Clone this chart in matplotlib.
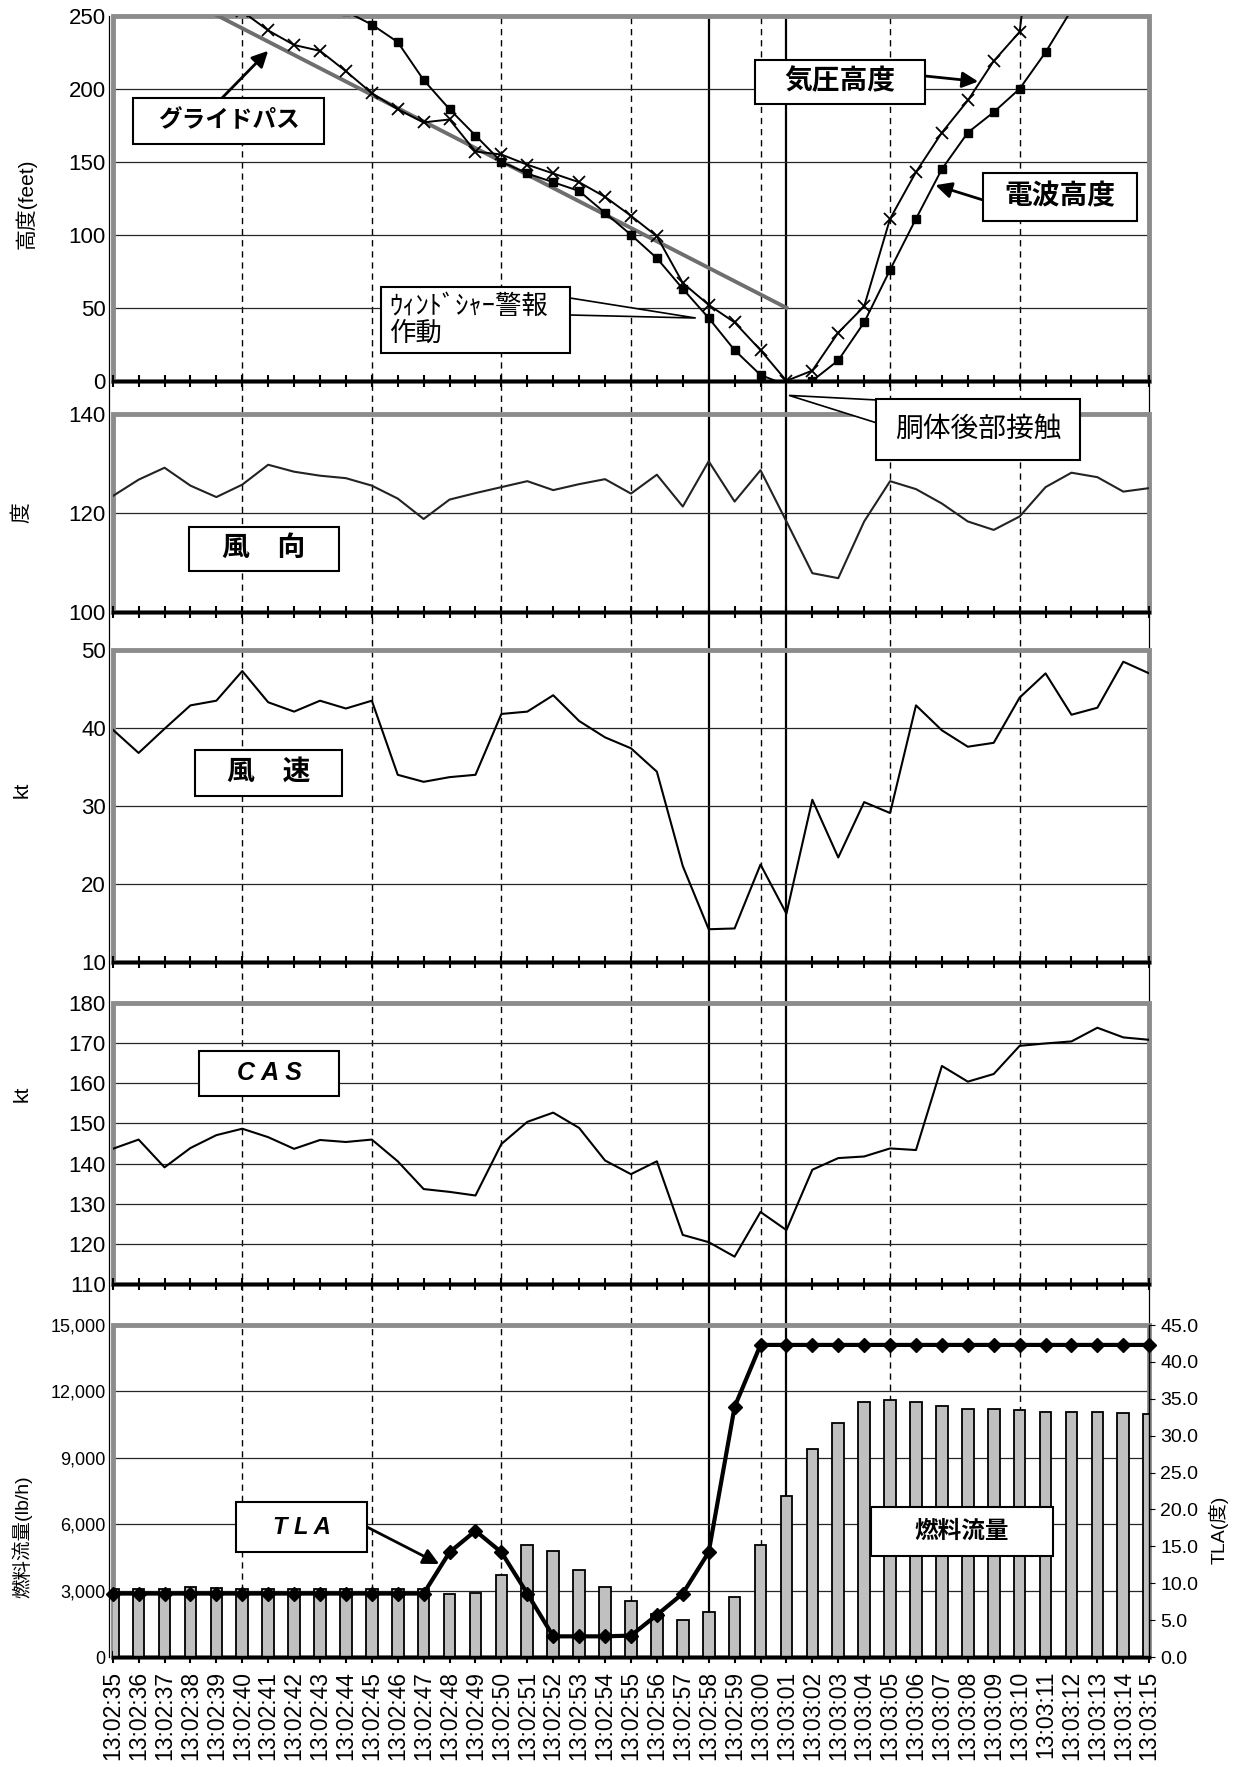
import numpy as np
import matplotlib
matplotlib.use("Agg")
import matplotlib.pyplot as plt
from matplotlib.patches import Rectangle, Polygon
from matplotlib.ticker import StrMethodFormatter

plt.rcParams['font.family'] = ['Liberation Sans', 'Noto Sans CJK JP', 'DejaVu Sans']

W, H = 1236, 1767

# time axis 13:02:35 .. 13:03:15, one sample per second
times = ["13:02:%02d" % s for s in range(35, 60)] + ["13:03:%02d" % s for s in range(0, 16)]
idx = np.arange(len(times))

# altitude (feet)
glide_x = [0, 26]
glide_alt = [287, 50]
pressure_alt = [290, 283, 276, 268, 261, 253, 240, 230, 226, 212, 197, 186, 177, 179, 157,
                155, 148, 142, 136, 126, 113, 99, 67, 52, 40, 21, 0, 7, 33, 51,
                111, 143, 170, 192, 219, 239, 384, 430, 470, 510, 550]
radio_alt = [330, 320, 310, 300, 290, 282, 274, 266, 259, 253, 244, 232, 206, 186, 168,
             150, 142, 136, 130, 115, 100, 84, 63, 43, 21, 4, -3, 0, 14, 40,
             76, 111, 145, 170, 184, 200, 225, 254, 280, 305, 330]

# wind direction (deg), wind speed (kt), CAS (kt)
wind_dir = [123.4, 126.7, 129.1, 125.5, 123.2, 125.7, 129.7, 128.3, 127.5, 127.0, 125.5,
            122.9, 118.8, 122.7, 124.0, 125.2, 126.4, 124.6, 125.8, 126.8, 123.9,
            127.7, 121.3, 130.4, 122.3, 128.6, 118.3, 107.9, 106.9, 118.3, 126.4,
            124.8, 121.9, 118.3, 116.6, 119.3, 125.2, 128.1, 127.2, 124.3, 125.0]
wind_spd = [39.8, 36.8, 39.9, 42.9, 43.5, 47.3, 43.3, 42.1, 43.5, 42.5, 43.5,
            34.0, 33.1, 33.7, 34.0, 41.8, 42.1, 44.2, 40.9, 38.8, 37.4,
            34.4, 22.3, 14.2, 14.3, 22.5, 16.2, 30.8, 23.4, 30.5, 29.1,
            42.9, 39.7, 37.6, 38.1, 43.9, 47.0, 41.7, 42.6, 48.5, 47.0]
cas = [143.7, 146.0, 139.1, 143.9, 147.1, 148.7, 146.6, 143.7, 145.9, 145.4, 146.0,
       140.6, 133.7, 133.0, 132.1, 144.9, 150.4, 152.7, 148.9, 140.8, 137.4,
       140.6, 122.3, 120.5, 116.9, 128.0, 123.5, 138.5, 141.4, 141.8, 143.8,
       143.4, 164.3, 160.4, 162.3, 169.3, 169.9, 170.4, 173.8, 171.4, 170.8]

# fuel flow (lb/h) and TLA (deg)
fuel_flow = [3050, 3050, 3050, 3150, 3100, 3050, 3050, 3050, 3050, 3050, 3050, 3050, 3050,
             2860, 2890, 3710, 5040, 4770, 3940, 3170, 2530,
             1960, 1650, 2030, 2710, 5040, 7270, 9400, 10580, 11510, 11590,
             11500, 11360, 11190, 11220, 11160, 11080, 11080, 11050, 11020, 10960]
tla = [8.6] * 13 + [14.2, 17.1, 14.2, 8.6, 2.8, 2.8, 2.8, 2.9,
                    5.7, 8.6, 14.2, 33.9] + [42.3] * 16

dash_x = [5, 10, 15, 20, 25, 30, 35]
event_x = [23, 26]   # 13:02:58 windshear warning, 13:03:01 tail strike
edge_x = [-0.15, 40]

L, R = 112.7, 1149.2


def fig_rect(x0, y0, x1, y1):
    return [x0 / W, 1 - y1 / H, (x1 - x0) / W, (y1 - y0) / H]


def fpt(x, y):
    return (x / W, 1 - y / H)


fig = plt.figure(figsize=(W / 100, H / 100), dpi=100)

# vertical reference lines running through every panel
ax_v = fig.add_axes(fig_rect(L, 15.8, R, 1657), zorder=-1)
ax_v.set_xlim(0, 40)
ax_v.set_ylim(0, 1)
ax_v.axis('off')
for x in dash_x:
    ax_v.axvline(x, color='k', lw=1.0, ls=(0, (4.5, 3.5)))
for x in event_x:
    ax_v.axvline(x, color='k', lw=1.6)
for x in edge_x:
    ax_v.axvline(x, color='k', lw=0.9, clip_on=False)


def style_panel(ax, ylim, yticks, labelsize=16):
    ax.set_xlim(0, 40)
    ax.set_ylim(*ylim)
    ax.set_yticks(yticks)
    ax.patch.set_visible(False)
    for s in ('top', 'right', 'left'):
        ax.spines[s].set_visible(False)
    ax.spines['bottom'].set_linewidth(2.5)
    ax.set_xticks(idx)
    ax.tick_params(axis='x', direction='inout', length=8, width=1.5, labelbottom=False)
    ax.tick_params(axis='y', length=0, labelsize=labelsize, pad=5)
    for y in yticks[1:-1]:
        ax.axhline(y, color='0.15', lw=0.9, zorder=1)
    ax.add_patch(Rectangle((0, 0), 1, 1, transform=ax.transAxes, fill=False,
                           ec='#8c8c8c', lw=3.5, clip_on=False, zorder=1.5))


ax1 = fig.add_axes(fig_rect(L, 15.8, R, 380.8))
ax2 = fig.add_axes(fig_rect(L, 413.5, R, 612.5))
ax3 = fig.add_axes(fig_rect(L, 650, R, 962))
ax4 = fig.add_axes(fig_rect(L, 1002.8, R, 1284.4))
ax5 = fig.add_axes(fig_rect(L, 1325, R, 1657))

style_panel(ax1, (0, 250), [0, 50, 100, 150, 200, 250])
style_panel(ax2, (100, 140), [100, 120, 140])
style_panel(ax3, (10, 50), [10, 20, 30, 40, 50])
style_panel(ax4, (110, 180), [110, 120, 130, 140, 150, 160, 170, 180])
style_panel(ax5, (0, 15000), [0, 3000, 6000, 9000, 12000, 15000], labelsize=13)

# panel 1: altitudes
ax1.plot(glide_x, glide_alt, color='#6e6e6e', lw=2.8, zorder=2)
ax1.plot(idx, pressure_alt, color='k', lw=1.4, marker='x', ms=9, mew=1.3, zorder=3)
ax1.plot(idx, radio_alt, color='k', lw=1.4, marker='s', ms=6, zorder=3)

ax2.plot(idx, wind_dir, color='#222222', lw=1.5)
ax3.plot(idx, wind_spd, color='k', lw=1.5)
ax4.plot(idx, cas, color='k', lw=1.5)

# panel 5: fuel flow bars + TLA
ax5.bar(idx, fuel_flow, width=0.45, color='#c0c0c0', edgecolor='k', lw=1.3, zorder=2)
ax5.yaxis.set_major_formatter(StrMethodFormatter('{x:,.0f}'))
ax5.set_xticklabels(times, rotation=90, fontsize=16.5)
ax5.tick_params(axis='x', labelbottom=True, pad=6)

ax5r = ax5.twinx()
ax5r.set_xlim(0, 40)
ax5r.set_ylim(0, 45)
ax5r.set_yticks(np.arange(0, 46, 5))
ax5r.yaxis.set_major_formatter(StrMethodFormatter('{x:.1f}'))
for s in ('top', 'left', 'bottom'):
    ax5r.spines[s].set_visible(False)
ax5r.spines['right'].set_linewidth(1.0)
ax5r.tick_params(axis='y', length=4, labelsize=14, pad=4)
ax5r.plot(idx, tla, color='k', lw=3, marker='D', ms=7, clip_on=False, zorder=3)

# axis titles
fig.text(26 / W, 1 - 204 / H, '高度(feet)', rotation=90, ha='center', va='center', fontsize=15)
fig.text(22 / W, 1 - 513 / H, '度', rotation=90, ha='center', va='center', fontsize=15)
fig.text(22 / W, 1 - 790 / H, 'kt', rotation=90, ha='center', va='center', fontsize=15)
fig.text(22 / W, 1 - 1094 / H, 'kt', rotation=90, ha='center', va='center', fontsize=15)
fig.text(22 / W, 1 - 1537 / H, '燃料流量(lb/h)', rotation=90, ha='center', va='center', fontsize=14)
fig.text(1219 / W, 1 - 1530 / H, 'TLA(度)', rotation=90, ha='center', va='center', fontsize=14)


def box(x0, y0, x1, y1, text, ha='center', tx=None, **kw):
    fig.add_artist(Rectangle(fpt(x0, y1), (x1 - x0) / W, (y1 - y0) / H,
                             transform=fig.transFigure, fc='white', ec='black',
                             lw=1.5, zorder=5))
    if tx is None:
        tx = (x0 + x1) / 2
    fig.text(tx / W, 1 - (y0 + y1) / 2 / H, text, ha=ha, va='center', zorder=6, **kw)


def arrow(ax, tip, start):
    ax.annotate('', xy=tip, xycoords='data', xytext=fpt(*start), textcoords='figure fraction',
                arrowprops=dict(arrowstyle='-|>', color='k', lw=2, mutation_scale=24,
                                shrinkA=0, shrinkB=0),
                annotation_clip=False)


def to_fig(ax, x, y):
    return fig.transFigure.inverted().transform(ax.transData.transform((x, y)))


def callout(ax, tip, a, b):
    t = to_fig(ax, *tip)
    fig.add_artist(Polygon([fpt(*a), t, fpt(*b)], closed=True, transform=fig.transFigure,
                           fc='white', ec='black', lw=1.2, zorder=4.9))


bold = dict(fontsize=20, fontweight='bold')

box(133, 98, 324, 144, 'グライドパス', fontsize=17, fontweight='bold')
arrow(ax1, (6.0, 226), (222, 98))

box(755, 60, 925, 104, '気圧高度', **bold)
arrow(ax1, (33.4, 205), (925, 76))

box(983, 173, 1137, 221, '電波高度', **bold)
arrow(ax1, (31.75, 134), (983, 200))

callout(ax1, (22.5, 43), (570, 298), (570, 315))
box(381, 287, 570, 353, 'ｳｨﾝﾄﾞｼｬｰ警報\n作動', ha='left', tx=389, fontsize=19, linespacing=1.1)

callout(ax1, (26.1, -10), (877, 400), (877, 423))
box(876, 399, 1080, 460, '胴体後部接触', fontsize=20)

box(189, 527, 339, 571, '風　向', **bold)
box(195, 750, 342, 796, '風　速', **bold)
box(199, 1051, 339, 1096, 'C A S', fontsize=18, fontweight='bold', fontstyle='italic')

box(236, 1502, 367, 1552, 'T L A', fontsize=17, fontweight='bold', fontstyle='italic')
arrow(ax5r, (12.6, 12.6), (367, 1527))

box(871, 1507, 1053, 1556, '燃料流量', fontsize=17, fontweight='bold')

fig.savefig('out.png', dpi=100)
